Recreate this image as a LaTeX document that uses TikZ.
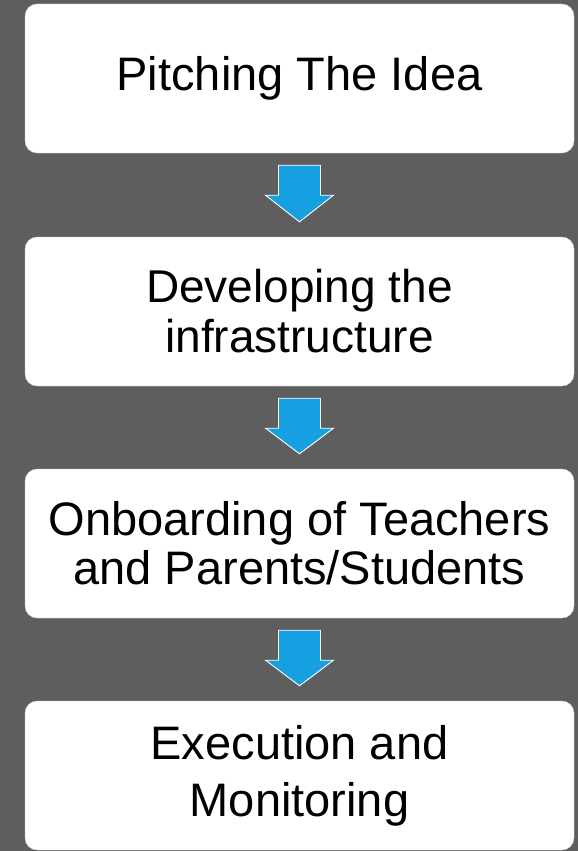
\documentclass[tikz,border=0pt]{standalone}
\usepackage{fontspec}
\setmainfont{Liberation Sans}
\usetikzlibrary{calc}
\definecolor{bggray}{RGB}{94,94,94}
\definecolor{arrowblue}{RGB}{22,160,226}
\tikzset{
  stagebox/.style={fill=white, draw=white!80!black, line width=0.4pt, rounded corners=12pt,
    minimum width=549pt, minimum height=149pt, align=center, text=black, inner sep=0pt,
    font=\fontsize{47}{52}\selectfont},
  flowarrow/.style={fill=arrowblue, draw=white, line width=0.9pt, line join=miter}
}
\newcommand\blockarrow[2]{%
  \path[flowarrow] ($(#1.south)+(-21,-12)$) -- ($(#1.south)+(21,-12)$)
    -- ($(#1.south)+(21,-42)$) -- ($(#1.south)+(34,-42)$)
    -- ($(#2.north)+(0,15)$)
    -- ($(#1.south)+(-34,-42)$) -- ($(#1.south)+(-21,-42)$) -- cycle;}
\begin{document}
\begin{tikzpicture}[x=1pt,y=1pt]
  \fill[bggray] (0,0) rectangle (578,-851);
  \useasboundingbox (0,0) rectangle (578,-851);
  \node[stagebox] (s1) at (299.5,-78.5) {Pitching The Idea};
  \node[stagebox, font=\fontsize{46}{50}\selectfont] (s2) at (299.5,-311.5) {Developing the\\infrastructure};
  \node[stagebox, font=\fontsize{47}{49}\selectfont] (s3) at (299.5,-543.5) {Onboarding of Teachers\\and Parents/Students};
  \node[stagebox, font=\fontsize{47}{57}\selectfont] (s4) at (299.5,-775.5) {Execution and\\Monitoring};
  \blockarrow{s1}{s2}
  \blockarrow{s2}{s3}
  \blockarrow{s3}{s4}
\end{tikzpicture}
\end{document}
